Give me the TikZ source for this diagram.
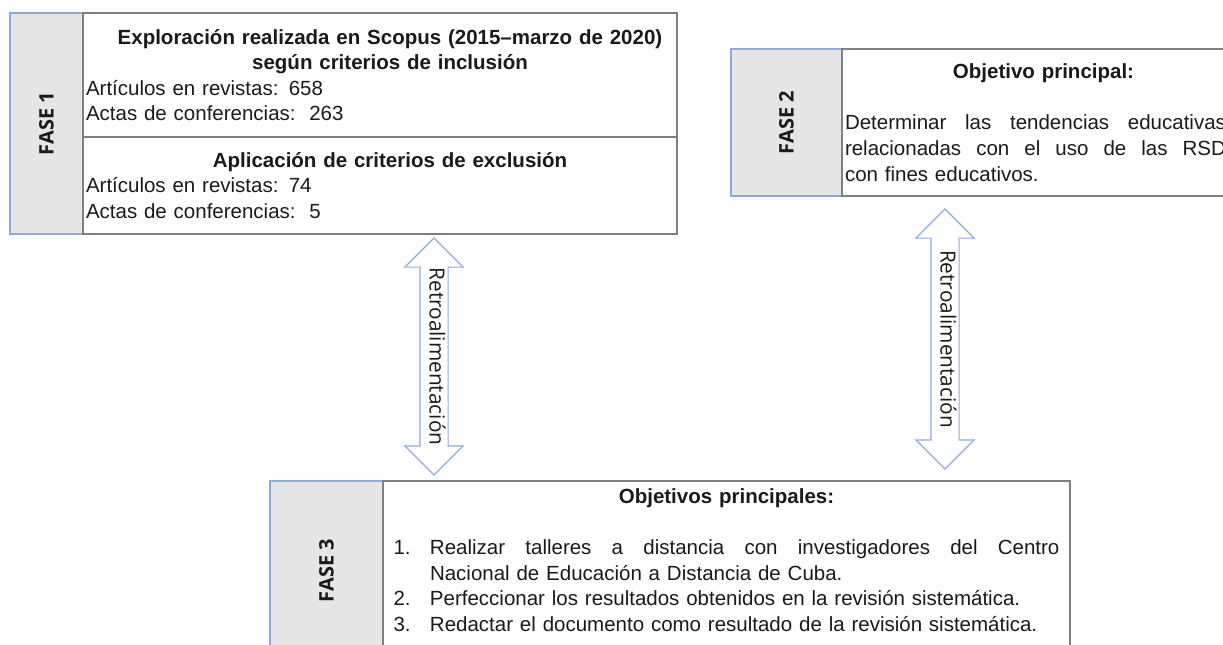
\documentclass[tikz,border=0pt]{standalone}
\usepackage{fontspec}
\setmainfont{Liberation Sans}
\newfontfamily\phasefont{Open Sans}
\usetikzlibrary{shapes.arrows,positioning}
\definecolor{ink}{HTML}{1A1A1A}
\definecolor{frame}{HTML}{7F7F7F}
\definecolor{tabfill}{HTML}{E7E6E6}
\definecolor{tabline}{HTML}{8EAADB}
\definecolor{loopline}{HTML}{8FAADC}
\newcommand\headline[1]{\makebox[\linewidth]{\bfseries #1}}
\newcommand\fullline[2][\linewidth]{{\spaceskip=0pt\xspaceskip=0pt\makebox[#1][s]{#2}}}

\begin{document}
\begin{tikzpicture}[x=.5pt, y=-.5pt,
  text=ink,
  tab/.style={draw=tabline, fill=tabfill, line width=.7pt, rotate=90,
    inner sep=0pt, outer sep=0pt, font=\phasefont\bfseries\fontsize{10}{12}\selectfont},
  box/.style={draw=frame, line width=.7pt, inner xsep=1.5pt, inner ysep=0pt,
    outer sep=0pt, align=left, font=\fontsize{10.25}{12.8}\selectfont},
  feedback/.style={shape=double arrow, draw=loopline, fill=white, line width=.6pt,
    double arrow head extend=7.5pt, double arrow head indent=0pt, rotate=-90,
    inner xsep=0pt, inner ysep=2pt, text height=7pt, text depth=2.5pt,
    minimum width=28.5pt, font=\phasefont\fontsize{10.4}{12}\selectfont}
]
  \useasboundingbox (0,0) rectangle (1223,644);
  \clip (0,0) rectangle (1223,644);

  % fase 1
  \node[tab, minimum width=110.5pt, minimum height=36.5pt] (fase1) at (46.5,123.5) {FASE 1};
  \node[box, text width=294pt, minimum height=62pt] (scopus) at (380,75)
    {\headline{\hspace{10pt}Exploración realizada en Scopus (2015–marzo de 2020)}\\
     \headline{\hspace{10pt}según criterios de inclusión}\\
     Artículos en revistas: 658\\
     Actas de conferencias:\ \ 263};
  \node[box, text width=294pt, minimum height=48.5pt, below=0pt of scopus] (exclusion)
    {\headline{\hspace{10pt}Aplicación de criterios de exclusión}\\
     Artículos en revistas: 74\\
     Actas de conferencias:\ \ 5};

  % fase 2
  \node[tab, minimum width=73.5pt, minimum height=55.5pt] (fase2) at (786.5,122.5) {FASE 2};
  \node[box, text width=190.5pt, minimum height=73.5pt] (goal) at (1035.5,122.5)
    {\headline{\hspace{8pt}Objetivo principal:}\\[12.8pt]
     \fullline{Determinar las tendencias educativas}\\
     \fullline{relacionadas con el uso de las RSD}\\
     con fines educativos.};

  % fase 3
  \node[tab, minimum width=89.5pt, minimum height=56.5pt] (fase3) at (326.5,570.5) {FASE 3};
  \node[box, text width=333pt, inner xsep=5.25pt, minimum height=89.5pt] (goals) at (726.5,570.5)
    {\headline{Objetivos principales:}\\[12.8pt]
     \makebox[18.25pt][l]{1.}\fullline[314.75pt]{Realizar talleres a distancia con investigadores del Centro}\\
     \hspace*{18.25pt}Nacional de Educación a Distancia de Cuba.\\
     \makebox[18.25pt][l]{2.}Perfeccionar los resultados obtenidos en la revisión sistemática.\\
     \makebox[18.25pt][l]{3.}Redactar el documento como resultado de la revisión sistemática.\par
     \vspace{10.5pt}};

  % retroalimentacion
  \node[feedback, minimum height=118.5pt] (loop1) at (434,356.5) {Retroalimentación};
  \node[feedback, minimum height=130pt] (loop2) at (945,339) {Retroalimentación};
\end{tikzpicture}
\end{document}
